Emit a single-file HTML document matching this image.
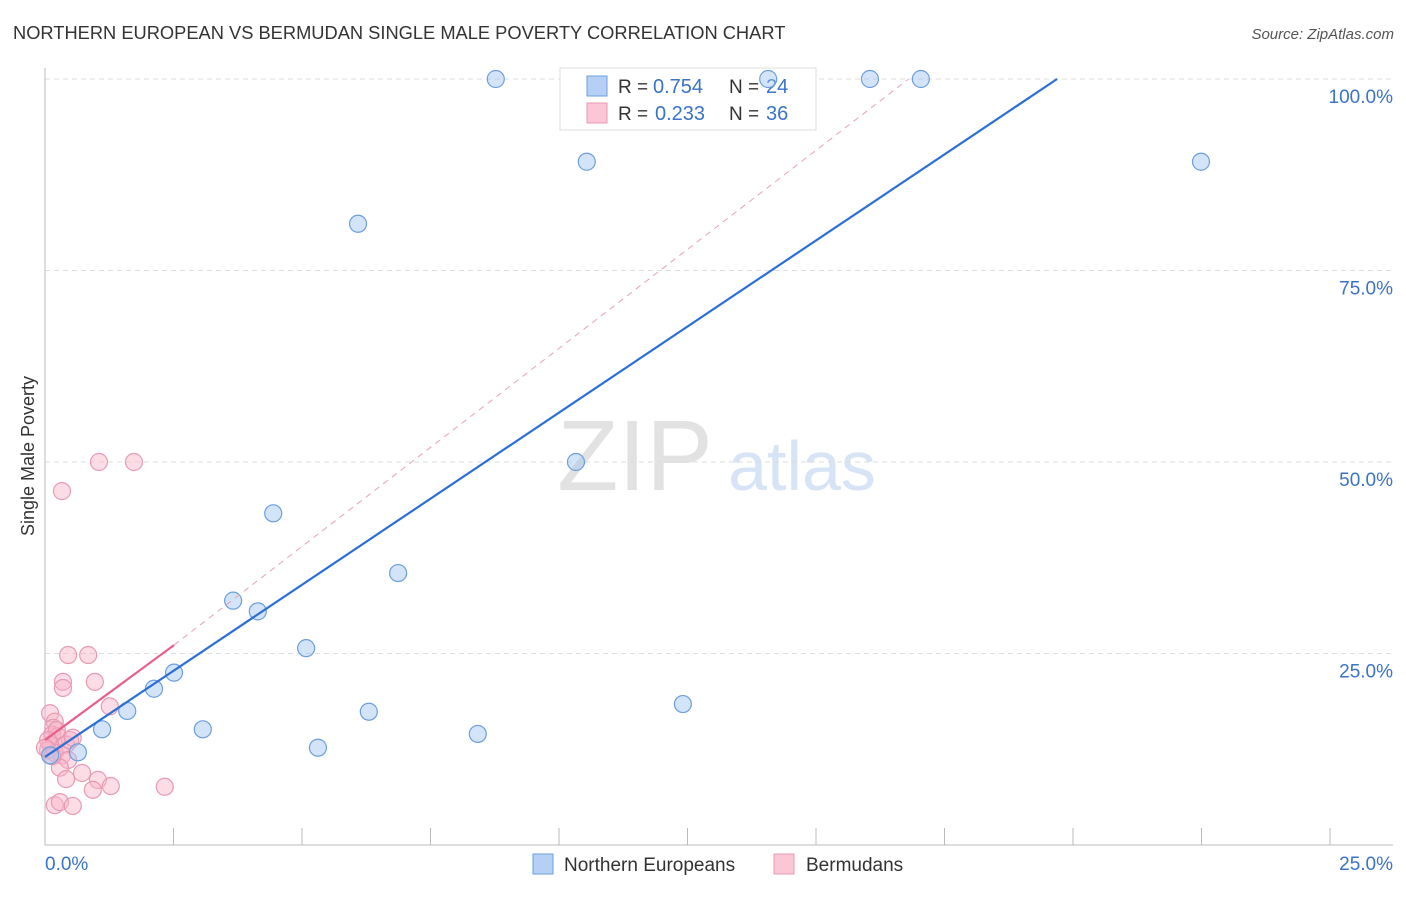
<!DOCTYPE html>
<html><head><meta charset="utf-8"><style>
body{margin:0;background:#fff;font-family:"Liberation Sans",sans-serif;}
svg text{font-family:"Liberation Sans",sans-serif;}
</style></head><body>
<svg id="c" width="1406" height="892" xmlns="http://www.w3.org/2000/svg">
<text x="13" y="39" font-size="18.3" fill="#333">NORTHERN EUROPEAN VS BERMUDAN SINGLE MALE POVERTY CORRELATION CHART</text>
<text x="1394" y="39" font-size="15" fill="#555" font-style="italic" text-anchor="end">Source: ZipAtlas.com</text>
<g>
<text x="635" y="490" font-size="100" font-family="Liberation Serif,serif" fill="#e2e2e2" text-anchor="middle">ZIP</text>
<text x="802" y="490" font-size="70" fill="#d6e4f5" text-anchor="middle">atlas</text></g>
<g id="grid"></g><g id="axes"></g>
<g>
<rect x="560" y="68" width="256" height="62" fill="#fff" stroke="#ddd"/>
<rect x="587" y="76" width="20" height="20" fill="#b6d0f5" stroke="#6b9fe0"/>
<rect x="587" y="103" width="20" height="20" fill="#fbc6d6" stroke="#e89ab5"/>
<text x="618" y="93" font-size="19" fill="#333">R =</text>
<text x="653" y="93" font-size="20" fill="#3a73c8">0.754</text>
<text x="729" y="93" font-size="19" fill="#333">N =</text>
<text x="766" y="93" font-size="20" fill="#3a73c8">24</text>
<text x="618" y="120" font-size="19" fill="#333">R =</text>
<text x="655" y="120" font-size="20" fill="#3a73c8">0.233</text>
<text x="729" y="120" font-size="19" fill="#333">N =</text>
<text x="766" y="120" font-size="20" fill="#3a73c8">36</text></g>
<g id="marks"></g>
<text transform="translate(34,456) rotate(-90)" font-size="18" fill="#333" text-anchor="middle">Single Male Poverty</text>
<g>
<rect x="533" y="854" width="20" height="20" fill="#b6d0f5" stroke="#6b9fe0"/>
<text x="564" y="871" font-size="19" fill="#333">Northern Europeans</text>
<rect x="774" y="854" width="20" height="20" fill="#fbc6d6" stroke="#e89ab5"/>
<text x="806" y="871" font-size="19" fill="#333">Bermudans</text></g>
</svg>
<script>
const blueX=[8.77,14.07,16.05,17.04,10.54,22.49,6.09,10.33,4.44,6.87,3.66,4.14,5.08,2.51,2.12,1.60,6.30,12.41,3.07,1.11,8.42,5.31,0.64,0.10];
const blueY=[100,100,100,100,89.2,89.2,81.1,50.0,43.3,35.5,31.9,30.5,25.7,22.5,20.4,17.5,17.4,18.4,15.1,15.1,14.5,12.7,12.1,11.7];
const pinkX=[1.05,1.73,0.33,0.45,0.84,0.35,0.35,0.97,1.26,0.10,0.19,0.16,0.14,0.25,0.49,0.41,0.54,0.10,0.06,0.19,0.33,0.45,0.29,0.72,0.41,1.03,1.28,2.33,0.93,0.19,0.29,0.54,0.23,0.06,0.00,0.14];
const pinkY=[50.0,50.0,46.2,24.8,24.8,21.3,20.5,21.3,18.1,17.2,16.1,15.3,14.4,14.2,13.7,13.1,14.0,13.1,12.4,12.0,11.7,11.1,10.1,9.4,8.6,8.5,7.7,7.6,7.2,5.2,5.6,5.1,15.0,13.7,12.7,11.6];
const blueLine=[[0,11.5],[19.69,100]];
const pinkLine=[[0,13.7],[2.51,26.1]];
const pinkDash=[[2.51,26.1],[16.8,100]];
const yTicks=[25,50,75,100];
const yTickLabels=["25.0%","50.0%","75.0%","100.0%"];
const xTicks=[2.5,5,7.5,10,12.5,15,17.5,20,22.5,25];
const NS="http://www.w3.org/2000/svg";
const X=v=>45+v/25*1285, Y=v=>845-v/100*766;
function mk(p,t,a){const e=document.createElementNS(NS,t);for(const k in a)e.setAttribute(k,a[k]);document.getElementById(p).appendChild(e);return e;}
yTicks.forEach((t,i)=>{
 const l=mk('grid','line',{x1:45,x2:1393,y1:Y(t),y2:Y(t),stroke:'#ddd','stroke-dasharray':'5,4'});
 
 
 const tx=mk('grid','text',{x:1393,y:Y(t)+24,'font-size':19,fill:'#3a73c8','text-anchor':'end'});
 tx.textContent=yTickLabels[i];
 
 
});
const ax=mk('axes','path',{d:'M45,68V845H1393',stroke:'#bbb',fill:'none'});


xTicks.forEach(t=>{const l=mk('axes','line',{x1:X(t),x2:X(t),y1:828,y2:845,stroke:'#bbb'});
 
 });
const x0=mk('axes','text',{x:45,y:870,'font-size':19,fill:'#3a73c8'});x0.textContent='0.0%';


const x1=mk('axes','text',{x:1393,y:870,'font-size':19,fill:'#3a73c8','text-anchor':'end'});x1.textContent='25.0%';


pinkX.forEach((v,i)=>{const c=mk('marks','circle',{cx:X(v),cy:Y(pinkY[i]),r:8.5,fill:'rgba(248,180,200,0.45)',stroke:'#e89ab5','stroke-width':1.2});
 
 });
blueX.forEach((v,i)=>{const c=mk('marks','circle',{cx:X(v),cy:Y(blueY[i]),r:8.5,fill:'rgba(160,196,240,0.45)',stroke:'#6b9fe0','stroke-width':1.2});
 
 });
const d=mk('marks','line',{x1:X(pinkDash[0][0]),y1:Y(pinkDash[0][1]),x2:X(pinkDash[1][0]),y2:Y(pinkDash[1][1]),stroke:'#e8a0b8','stroke-dasharray':'6,5','stroke-width':1});


const bl=mk('marks','line',{x1:X(blueLine[0][0]),y1:Y(blueLine[0][1]),x2:X(blueLine[1][0]),y2:Y(blueLine[1][1]),stroke:'#2a6fd6','stroke-width':2.2});


const pl=mk('marks','line',{x1:X(pinkLine[0][0]),y1:Y(pinkLine[0][1]),x2:X(pinkLine[1][0]),y2:Y(pinkLine[1][1]),stroke:'#e8608a','stroke-width':2.2});


</script>
</body></html>
